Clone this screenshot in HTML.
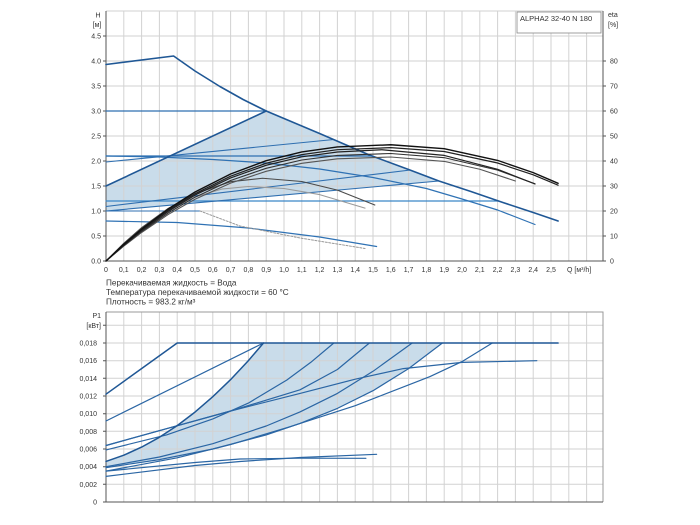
<!DOCTYPE html>
<html><head><meta charset="utf-8"><style>
html,body{margin:0;padding:0;background:#fff;}
svg{display:block;}
text{font-family:"Liberation Sans",Arial,sans-serif;fill:#333;}
</style></head><body>
<svg width="700" height="525" viewBox="0 0 700 525" xmlns="http://www.w3.org/2000/svg">
<rect width="700" height="525" fill="#fff"/>

<!-- ===== TOP CHART ===== -->
<polygon points="106,186 266.2,111 319.6,133.5 369.4,155 408.6,169.5 438.9,181 106,211" fill="#c9dcea"/>
<path d="M123.8 11V261M141.6 11V261M159.4 11V261M177.2 11V261M195 11V261M212.8 11V261M230.6 11V261M248.4 11V261M266.2 11V261M284 11V261M301.8 11V261M319.6 11V261M337.4 11V261M355.2 11V261M373 11V261M390.8 11V261M408.6 11V261M426.4 11V261M444.2 11V261M462 11V261M479.8 11V261M497.6 11V261M515.4 11V261M533.2 11V261M551 11V261M568.8 11V261M586.6 11V261M106 11H603M106 36H603M106 61H603M106 86H603M106 111H603M106 136H603M106 161H603M106 186H603M106 211H603M106 236H603" stroke="#d2d2d2" stroke-width="1" fill="none"/>
<path d="M106 11V261H603V11" stroke="#555" stroke-width="1" fill="none"/>
<path d="M103 261H106M103 236H106M103 211H106M103 186H106M103 161H106M103 136H106M103 111H106M103 86H106M103 61H106M103 36H106M603 261H606M603 236H606M603 211H606M603 186H606M603 161H606M603 136H606M603 111H606M603 86H606M603 61H606" stroke="#555" stroke-width="1"/>

<g fill="none" stroke-linejoin="round" stroke-linecap="round">
<path d="M106 111H266.2" stroke="#2f6fb0" stroke-width="1.2"/>
<path d="M106 156H372" stroke="#2f6fb0" stroke-width="1.2"/>
<path d="M106 201H498.5" stroke="#3a86c8" stroke-width="1.2"/>
<path d="M106 162L333.8 139.5" stroke="#2f6fb0" stroke-width="1.1"/>
<path d="M106 206.5L410.4 170" stroke="#2f6fb0" stroke-width="1.1"/>
<path d="M106 211L438.9 181" stroke="#2f6fb0" stroke-width="1.1"/>
<path d="M106 211H200" stroke="#2f6fb0" stroke-width="1.1"/>
<polyline points="106,156 159.4,157 212.8,159.5 266.2,163 319.6,169 373,177.5 426.4,188.5 462,199 497.6,210 535,224.5" stroke="#2f72b4" stroke-width="1.2"/>
<polyline points="106,221 177.2,222.5 248.4,228 319.6,237 376.6,246.5" stroke="#2f72b4" stroke-width="1.2"/>
<polyline points="200,211 240,226 300,238 365,248.5" stroke="#999" stroke-width="1" stroke-dasharray="2,1.5"/>
<path d="M106 186L266.2 111" stroke="#1f5795" stroke-width="1.6"/>
<polyline points="106,64.5 173.6,56 195,71 219.9,86.5 243.1,99.5 266.2,111 319.6,133.5 369.4,155 408.6,169.5 438.9,181 470.9,191.5 502.9,202.5 533.2,212.5 558.1,221" stroke="#1f5795" stroke-width="1.6"/>
</g>

<g fill="none" stroke-linejoin="round" stroke-linecap="round">
<polyline points="106,261 123.8,243.55 141.6,228.4 168.3,210.1 195,197 221.7,189.1 248.4,186.5 284,188.5 319.6,194.6 365,208.15" stroke="#9a9a9a" stroke-width="1.1"/>
<polyline points="106,261 123.8,243.3 141.6,227.65 168.3,208.3 195,193.7 230.6,181.7 262.6,178.25 301.8,181.5 337.4,190.1 374.8,205" stroke="#4a4a4a" stroke-width="1.1"/>
<polyline points="106,261 123.8,246.1 141.6,232.5 168.3,214.45 195,199.25 230.6,183.1 266.2,171.3 301.8,163.3 337.4,158.8 390.8,157 444.2,161.4 479.8,169.25 515.4,181" stroke="#555" stroke-width="1.1"/>
<polyline points="106,261 123.8,245.6 141.6,231.5 168.3,212.9 195,197.2 230.6,180.5 266.2,168.3 301.8,160 337.4,155.4 390.8,153.5 444.2,157.65 497.6,170.1 535,183.8" stroke="#333" stroke-width="1.1"/>
<polyline points="106,261 123.8,245.1 141.6,230.55 168.3,211.35 195,195.1 230.6,177.9 266.2,165.25 301.8,156.8 337.4,152 381.9,149.75 444.2,155.4 497.6,169.3 535,184" stroke="#222" stroke-width="1.2"/>
<polyline points="106,261 123.8,244.75 141.6,229.9 168.3,210.3 195,193.7 230.6,176.2 266.2,163.25 301.8,154.6 337.4,149.7 390.8,147.65 444.2,151.5 497.6,163 533.2,174.85 558.1,185.2" stroke="#222" stroke-width="1.2"/>
<polyline points="106,261 123.8,244.3 141.6,229.1 168.3,209 195,192 230.6,174 266.2,160.7 301.8,151.9 337.4,146.9 390.8,144.75 444.2,148.7 497.6,160.4 533.2,172.6 558.1,183.3" stroke="#111" stroke-width="1.4"/>
</g>

<rect x="517" y="12" width="84" height="21" fill="#fff" stroke="#888" stroke-width="0.8"/>
<text x="520" y="21" font-size="7.5">ALPHA2 32-40 N 180</text>

<g font-size="7">
<text x="98" y="17.5" text-anchor="middle">H</text>
<text x="97" y="27" text-anchor="middle">[м]</text>
<g text-anchor="end">
<text x="101" y="38.5">4.5</text>
<text x="101" y="63.5">4.0</text>
<text x="101" y="88.5">3.5</text>
<text x="101" y="113.5">3.0</text>
<text x="101" y="138.5">2.5</text>
<text x="101" y="163.5">2.0</text>
<text x="101" y="188.5">1.5</text>
<text x="101" y="213.5">1.0</text>
<text x="101" y="238.5">0.5</text>
<text x="101" y="263.5">0.0</text>
</g>
<text x="608" y="17">eta</text>
<text x="608" y="27">[%]</text>
<text x="610" y="63.5">80</text>
<text x="610" y="88.5">70</text>
<text x="610" y="113.5">60</text>
<text x="610" y="138.5">50</text>
<text x="610" y="163.5">40</text>
<text x="610" y="188.5">30</text>
<text x="610" y="213.5">20</text>
<text x="610" y="238.5">10</text>
<text x="610" y="263.5">0</text>
<g text-anchor="middle">
<text x="106" y="272">0</text>
<text x="123.8" y="272">0,1</text>
<text x="141.6" y="272">0,2</text>
<text x="159.4" y="272">0,3</text>
<text x="177.2" y="272">0,4</text>
<text x="195" y="272">0,5</text>
<text x="212.8" y="272">0,6</text>
<text x="230.6" y="272">0,7</text>
<text x="248.4" y="272">0,8</text>
<text x="266.2" y="272">0,9</text>
<text x="284" y="272">1,0</text>
<text x="301.8" y="272">1,1</text>
<text x="319.6" y="272">1,2</text>
<text x="337.4" y="272">1,3</text>
<text x="355.2" y="272">1,4</text>
<text x="373" y="272">1,5</text>
<text x="390.8" y="272">1,6</text>
<text x="408.6" y="272">1,7</text>
<text x="426.4" y="272">1,8</text>
<text x="444.2" y="272">1,9</text>
<text x="462" y="272">2,0</text>
<text x="479.8" y="272">2,1</text>
<text x="497.6" y="272">2,2</text>
<text x="515.4" y="272">2,3</text>
<text x="533.2" y="272">2,4</text>
<text x="551" y="272">2,5</text>
</g>
<text x="567" y="272">Q [м³/h]</text>
</g>

<g font-size="8.2">
<text x="106" y="285.5">Перекачиваемая жидкость = Вода</text>
<text x="106" y="295">Температура перекачиваемой жидкости = 60 °C</text>
<text x="106" y="304.5">Плотность = 983.2 кг/м³</text>
</g>

<!-- ===== BOTTOM CHART ===== -->
<polygon points="106,461.4 123.8,455.2 141.6,447.1 159.4,437.3 177.2,425.6 195,412.1 212.8,396.7 230.6,379.6 248.4,360.6 263.5,343 442.4,343 408.6,368.6 373,390.7 337.4,408.4 300,423.4 266.2,434.9 212.8,449 159.4,459.6 106,467.6" fill="#c9dcea"/>
<path d="M123.8 312V502M141.6 312V502M159.4 312V502M177.2 312V502M195 312V502M212.8 312V502M230.6 312V502M248.4 312V502M266.2 312V502M284 312V502M301.8 312V502M319.6 312V502M337.4 312V502M355.2 312V502M373 312V502M390.8 312V502M408.6 312V502M426.4 312V502M444.2 312V502M462 312V502M479.8 312V502M497.6 312V502M515.4 312V502M533.2 312V502M551 312V502M568.8 312V502M586.6 312V502M106 325.3H603M106 343H603M106 360.7H603M106 378.3H603M106 396H603M106 413.7H603M106 431.3H603M106 449H603M106 466.7H603M106 484.3H603" stroke="#d2d2d2" stroke-width="1" fill="none"/>
<path d="M106 312H603V502" stroke="#999" stroke-width="1" fill="none"/>
<path d="M106 312V502H603" stroke="#555" stroke-width="1" fill="none"/>
<path d="M103 325.3H106M103 343H106M103 360.7H106M103 378.3H106M103 396H106M103 413.7H106M103 431.3H106M103 449H106M103 466.7H106M103 484.3H106M103 502H106" stroke="#555" stroke-width="1"/>

<g fill="none" stroke-linejoin="round" stroke-linecap="round" stroke="#2b66a4" stroke-width="1.2">
<polyline points="106,476.4 195,465.5 240,461.5 300,457.5 376.6,454.3"/>
<polyline points="106,471.1 195,462.5 240,459 300,458.2 365.9,458.3"/>
<polyline points="106,471.1 177.2,457.8 230.6,444.6 289.3,426.9 355.2,405.7 430,376.6 462,361.6 492.3,343"/>
<polyline points="106,467.6 159.4,459.6 212.8,449 266.2,434.9 300,423.4 337.4,408.4 373,390.7 408.6,368.6 442.4,343"/>
<polyline points="106,466.7 159.4,457 212.8,443.7 266.2,426 300,411.9 337.4,393.4 373,371.3 412.2,343"/>
<polyline points="106,445.5 166.5,428.7 230.6,411 300,393.4 355.2,379.2 403.3,368.6 462,362.4 536.8,360.7"/>
<polyline points="106,449.9 166.5,434.9 212.8,418.9 248.4,403.1 286.7,380.1 310.7,362.4 333.8,343"/>
<polyline points="106,445.5 166.5,428.7 230.6,411 300,389.8 337.4,369.5 369.4,343"/>
<path d="M106 421L263.5 343"/>
<polyline points="106,461.4 123.8,455.2 141.6,447.1 159.4,437.3 177.2,425.6 195,412.1 212.8,396.7 230.6,379.6 248.4,360.6 263.5,343" stroke="#1f5795" stroke-width="1.5"/>
<path d="M106 394.2L177.2 343H558.1" stroke="#1f5795" stroke-width="1.5"/>
</g>

<g font-size="7">
<text x="101" y="318" text-anchor="end">P1</text>
<text x="101" y="328" text-anchor="end">[кВт]</text>
<g text-anchor="end">
<text x="97" y="345.5">0,018</text>
<text x="97" y="363.2">0,016</text>
<text x="97" y="380.8">0,014</text>
<text x="97" y="398.5">0,012</text>
<text x="97" y="416.2">0,010</text>
<text x="97" y="433.8">0,008</text>
<text x="97" y="451.5">0,006</text>
<text x="97" y="469.2">0,004</text>
<text x="97" y="486.8">0,002</text>
<text x="97" y="504.5">0</text>
</g>
</g>
</svg>
</body></html>
